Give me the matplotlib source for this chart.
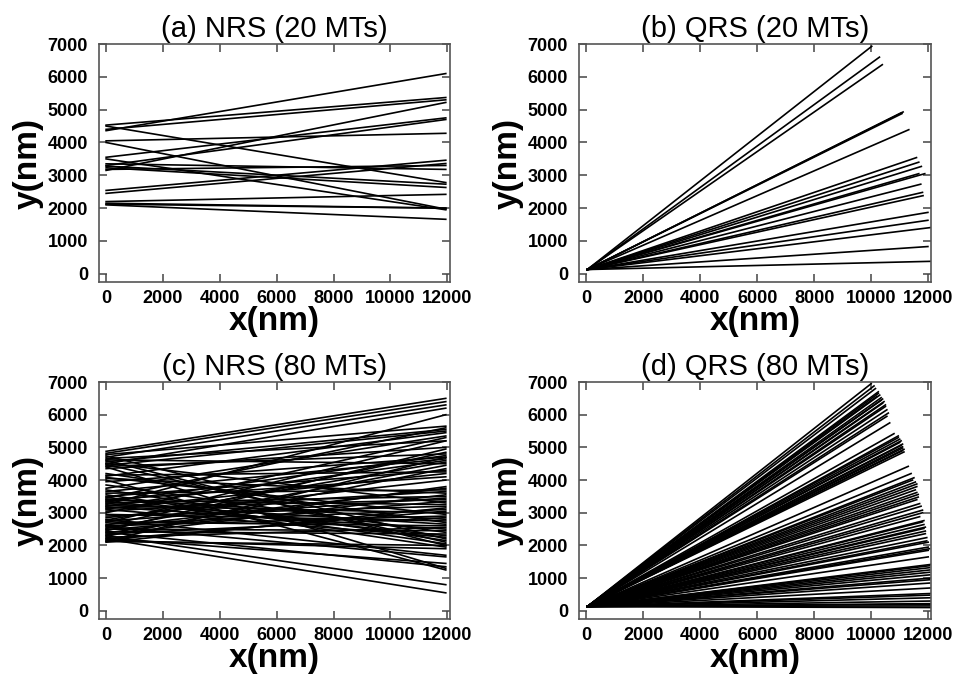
import numpy as np
import matplotlib
matplotlib.use("Agg")
import matplotlib.pyplot as plt

plt.rcParams['font.family'] = ['Liberation Sans', 'DejaVu Sans']

titles = ["(a) NRS (20 MTs)", "(b) QRS (20 MTs)",
          "(c) NRS (80 MTs)", "(d) QRS (80 MTs)"]

# NRS: every MT runs across the box, from x=0 to the far wall
nrs_x = [0, 11950]

nrs20_y0 = [4360, 4530, 4400, 3150, 4500, 4050, 4000, 3550, 3300, 3500,
            3350, 3280, 3230, 3180, 2540, 2450, 2200, 2150, 2100, 2120]
nrs20_y1 = [6100, 5370, 5300, 5220, 2780, 4280, 1970, 4750, 4700, 1950,
            3180, 2730, 2630, 3300, 3460, 3360, 2420, 2000, 1660, 2000]

nrs80_y0 = [4880, 4820, 4780, 4740, 4700, 4660, 4620, 4600, 4560, 4520,
            4500, 4480, 4450, 4420, 4400, 4350, 4200, 4150, 4120, 4080,
            4050, 4000, 3950, 3850, 3750, 3700, 3650, 3600, 3550, 3500,
            3480, 3450, 3420, 3400, 3380, 3350, 3330, 3300, 3280, 3250,
            3220, 3200, 3180, 3150, 3120, 3100, 3050, 3000, 2950, 2900,
            2850, 2800, 2780, 2750, 2720, 2700, 2650, 2620, 2600, 2580,
            2550, 2520, 2500, 2480, 2450, 2420, 2400, 2380, 2350, 2320,
            2300, 2280, 2250, 2220, 2200, 2180, 2150, 2130, 2120, 2100]
nrs80_y1 = [6500, 6400, 5650, 2200, 6300, 5200, 4500, 2000, 5550, 3300,
            6200, 2100, 5500, 4800, 1300, 5000, 2700, 4250, 5450, 2950,
            3600, 1250, 4700, 2400, 5350, 2150, 4650, 3700, 2050, 4300,
            1950, 5600, 2800, 4100, 3250, 2300, 4750, 3500, 2650, 6000,
            3000, 4600, 2500, 3400, 4200, 2250, 3650, 5300, 2750, 3200,
            4000, 1700, 4550, 3450, 2600, 5200, 3100, 4850, 2900, 1650,
            3750, 4450, 2450, 3350, 4950, 2350, 1350, 3800, 2850, 3550,
            800, 4350, 2550, 1450, 550, 3050, 1900, 4700, 2000, 3150]

# QRS: MTs grow out of one nucleation spot near the origin
qrs_start = (40, 130)

qrs20_x1 = [10020, 10290, 10390, 11120, 11080, 11050, 11320, 11590, 11670, 11760,
            11670, 11880, 11740, 11800, 11820, 11990, 11990, 12100, 11990, 12100]
qrs20_y1 = [6930, 6600, 6370, 4930, 4880, 4900, 4390, 3540, 3400, 3270,
            3050, 3050, 2730, 2480, 2380, 1870, 1630, 1410, 830, 380]

qrs80_x1 = [10000, 10100, 10150, 10250, 10250, 10300, 10200, 10350, 10400, 10350,
            10450, 10400, 10500, 10500, 10550, 10600, 10550, 10650,
            10800, 10950, 10950, 11000, 11050, 11000, 11100, 11050, 11100, 11100,
            11150, 11100, 11150,
            11300, 11400, 11500, 11450, 11550, 11600, 11600, 11550, 11600, 11650,
            11650, 11600, 11700, 11750, 11800, 11800,
            11700, 11850, 11800, 11850, 11900, 11850, 11900, 11900, 11950, 11950,
            12000, 12000, 12050, 12000, 12000,
            12100, 12050, 12050, 12050, 12050, 12050, 12050, 12050, 12050, 12100,
            12100, 12050, 12100, 12100, 12100, 12100, 12100, 12100]
qrs80_y1 = [6950, 6880, 6800, 6700, 6650, 6600, 6560, 6520, 6480, 6440,
            6400, 6350, 6300, 6250, 6150, 6050, 5950, 5750,
            5420, 5350, 5300, 5250, 5200, 5150, 5100, 5060, 5020, 4980,
            4940, 4900, 4860,
            4420, 4200, 4070, 4000, 3940, 3880, 3800, 3700, 3620, 3560,
            3480, 3400, 3280, 3200, 3080, 3000,
            2880, 2760, 2720, 2640, 2560, 2520, 2440, 2360, 2240, 2140,
            2100, 1950, 1900, 1850, 1650,
            1420, 1380, 1320, 1250, 1180, 1100, 1000, 950, 850, 700,
            530, 480, 400, 300, 220, 200, 150, 100]


def nrs_lines(y0, y1):
    n = len(y0)
    X = np.array([[nrs_x[0]] * n, [nrs_x[1]] * n])
    Y = np.array([y0, y1])
    return X, Y


def qrs_lines(x1, y1):
    n = len(x1)
    X = np.array([[qrs_start[0]] * n, x1])
    Y = np.array([[qrs_start[1]] * n, y1])
    return X, Y


def style(ax, title):
    ax.set_xlim(-250, 12100)
    ax.set_ylim(-250, 7000)
    ax.set_xticks(np.arange(0, 12001, 2000))
    ax.set_yticks(np.arange(0, 7001, 1000))
    ax.tick_params(direction='in', top=True, right=True, length=6, width=1.1,
                   color='#444444', labelsize=13)
    ax.tick_params(axis='x', pad=6)
    ax.tick_params(axis='y', pad=8)
    for lab in ax.get_xticklabels() + ax.get_yticklabels():
        lab.set_fontweight('bold')
    for sp in ax.spines.values():
        sp.set_linewidth(1.2)
        sp.set_color('#555555')
    ax.set_xlabel("x(nm)", fontsize=24, fontweight='bold', labelpad=-1)
    ax.set_ylabel("y(nm)", fontsize=24, fontweight='bold', labelpad=3)
    ax.set_title(title, fontsize=21, pad=5)


fig = plt.figure(figsize=(9.67, 6.74), dpi=100)
boxes = [[0.1024, 0.5816, 0.3630, 0.3531],
         [0.5988, 0.5816, 0.3640, 0.3531],
         [0.1024, 0.0816, 0.3630, 0.3516],
         [0.5988, 0.0816, 0.3640, 0.3516]]
sets = [nrs_lines(nrs20_y0, nrs20_y1), qrs_lines(qrs20_x1, qrs20_y1),
        nrs_lines(nrs80_y0, nrs80_y1), qrs_lines(qrs80_x1, qrs80_y1)]

for box, (X, Y), title in zip(boxes, sets, titles):
    ax = fig.add_axes(box)
    ax.plot(X, Y, color='black', linewidth=1.2)
    style(ax, title)

fig.savefig("out.png", dpi=100)
